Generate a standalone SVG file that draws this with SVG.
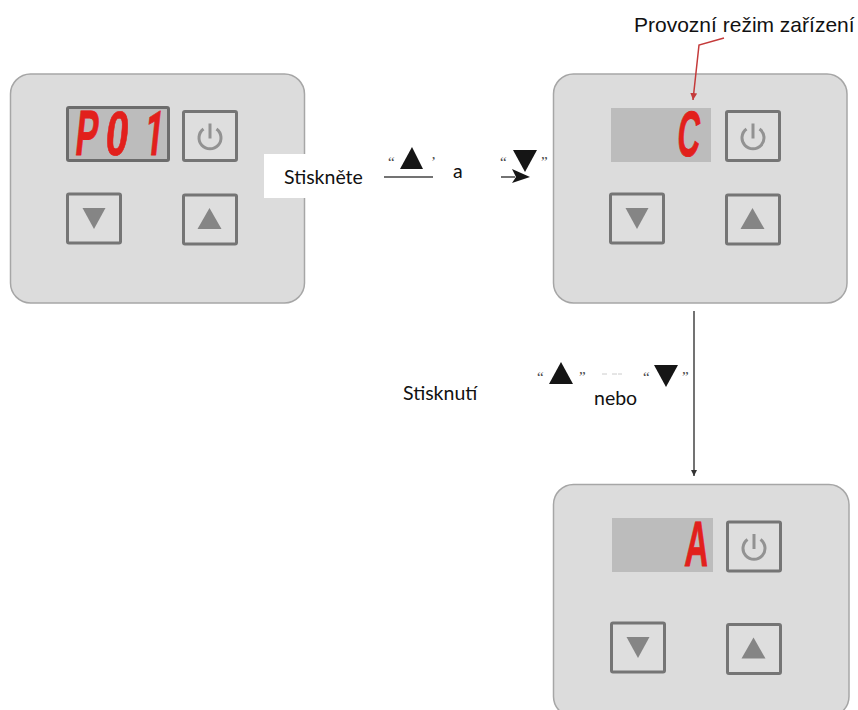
<svg xmlns="http://www.w3.org/2000/svg" width="858" height="710" viewBox="0 0 858 710">
<style>
.panel{fill:#dcdcdc;stroke:#a6a6a6;stroke-width:1.5}
.btn{fill:#dedede;stroke:#757575;stroke-width:3}
.ico{fill:#858585}
.pw{fill:none;stroke:#929292;stroke-width:3}
.disp{fill:#bcbcbc}
.seg{font-family:"Liberation Sans",Arial,sans-serif;font-weight:bold;font-size:60px;fill:#e2201c;stroke:#e2201c;stroke-width:.8}
.lab{font-family:Lato,"Open Sans",sans-serif;font-size:19.500px;fill:#111}
.q{font-family:"Liberation Serif",serif;font-size:15px;fill:#444}
.tri{fill:#151515}
.con{fill:none;stroke:#444;stroke-width:1.5}
</style>
<defs>
<g id="power"><rect class="btn" x="0" y="0" width="53" height="49" rx="1.5"/><path class="pw" d="M20 17.5A11 11 0 1 0 33 17.5"/><path class="pw" d="M26.500 12V27"/></g>
<g id="down"><rect class="btn" x="0" y="0" width="53" height="49" rx="1.5"/><polygon class="ico" points="15,14 38,14 26.500,35"/></g>
<g id="up"><rect class="btn" x="0" y="0" width="53" height="49" rx="1.5"/><polygon class="ico" points="14,34 38,34 26,13"/></g>
<marker id="ah" markerWidth="7" markerHeight="7" refX="6" refY="3" orient="auto" markerUnits="userSpaceOnUse"><path d="M0 0L6 3L0 6Z" fill="#333"/></marker>
<marker id="ahr" markerWidth="9" markerHeight="8" refX="7" refY="3.500" orient="auto" markerUnits="userSpaceOnUse"><path d="M0 0L7 3.500L0 7Z" fill="#c43a3a"/></marker>
</defs>
<rect width="858" height="710" fill="#fff"/>

<g id="panel-p01">
<rect class="panel" x="10.500" y="74" width="294" height="229" rx="20"/>
<rect x="67.500" y="107.500" width="101" height="53" fill="#bcbcbc" stroke="#6c6c6c" stroke-width="3" rx="1.500"/>
<g class="seg"><text transform="translate(74,155) skewX(-6) scale(.56,1.07)">P</text><text transform="translate(104,155) skewX(-6) scale(.68,1.04)">0</text><text transform="translate(143,155) skewX(-6) scale(.55,1.03)" style="font-family:Roboto,sans-serif">1</text></g>
<use href="#power" x="183.500" y="111.500"/>
<use href="#down" x="67.500" y="194"/>
<use href="#up" x="183.500" y="195"/>
</g>

<g id="panel-c">
<rect class="panel" x="553.500" y="74" width="293.500" height="229" rx="20"/>
<rect class="disp" x="611" y="108" width="100" height="54"/>
<text class="seg" transform="translate(676,156) skewX(-5) scale(.52,1.07)">C</text>
<use href="#power" x="726.500" y="111.500"/>
<use href="#down" x="610.500" y="194"/>
<use href="#up" x="726.500" y="195"/>
</g>

<g id="panel-a">
<rect class="panel" x="553.500" y="484.500" width="295.500" height="232" rx="20"/>
<rect class="disp" x="612" y="518" width="101" height="54"/>
<text class="seg" transform="translate(684,566) skewX(-3) scale(.55,1.07)">A</text>
<use href="#power" x="727.500" y="522"/>
<use href="#down" x="611.500" y="623"/>
<use href="#up" x="727.500" y="624.500"/>
</g>

<g id="label-press">
<rect x="264" y="154" width="44" height="44" fill="#fff"/>
<text class="lab" x="284" y="184">Stiskněte</text>
<text class="lab" x="453" y="178">a</text>
<text class="q" x="388" y="167">“</text>
<polygon class="tri" points="400,169 423,169 412,147"/>
<text class="q" x="431" y="167">’</text>
<text class="q" x="500" y="167">“</text>
<polygon class="tri" points="513,150 537,150 525,172"/>
<text class="q" x="541" y="167">”</text>
</g>

<g id="label-mode">
<text x="634" y="32" font-family="'Liberation Sans',Arial,sans-serif" font-size="21" fill="#111">Provozní režim zařízení</text>
</g>

<g id="label-cycle">
<text class="lab" x="403" y="400">Stisknutí</text>
<text class="lab" x="594" y="405">nebo</text>
<text class="q" x="537" y="382">“</text>
<polygon class="tri" points="549,384 573,384 561,362"/>
<text class="q" x="579" y="382">”</text>
<text class="q" x="643" y="382">“</text>
<polygon class="tri" points="654,365 678,365 666,387"/>
<text class="q" x="682" y="382">”</text>
<path d="M602 374H607M612 374H617M618 374H622" stroke="#ccc" stroke-width="1" fill="none"/>
</g>

<g id="connectors">
<path class="con" d="M384 177H433"/>
<path class="con" d="M501 177H515"/>
<polygon points="512,169 530,177 512,183 516,177" fill="#151515"/>
<path class="con" d="M694 311V476" marker-end="url(#ah)"/>
<path d="M724 38L699 45L693 100" fill="none" stroke="#c43a3a" stroke-width="1.500" marker-end="url(#ahr)"/>
</g>
</svg>
